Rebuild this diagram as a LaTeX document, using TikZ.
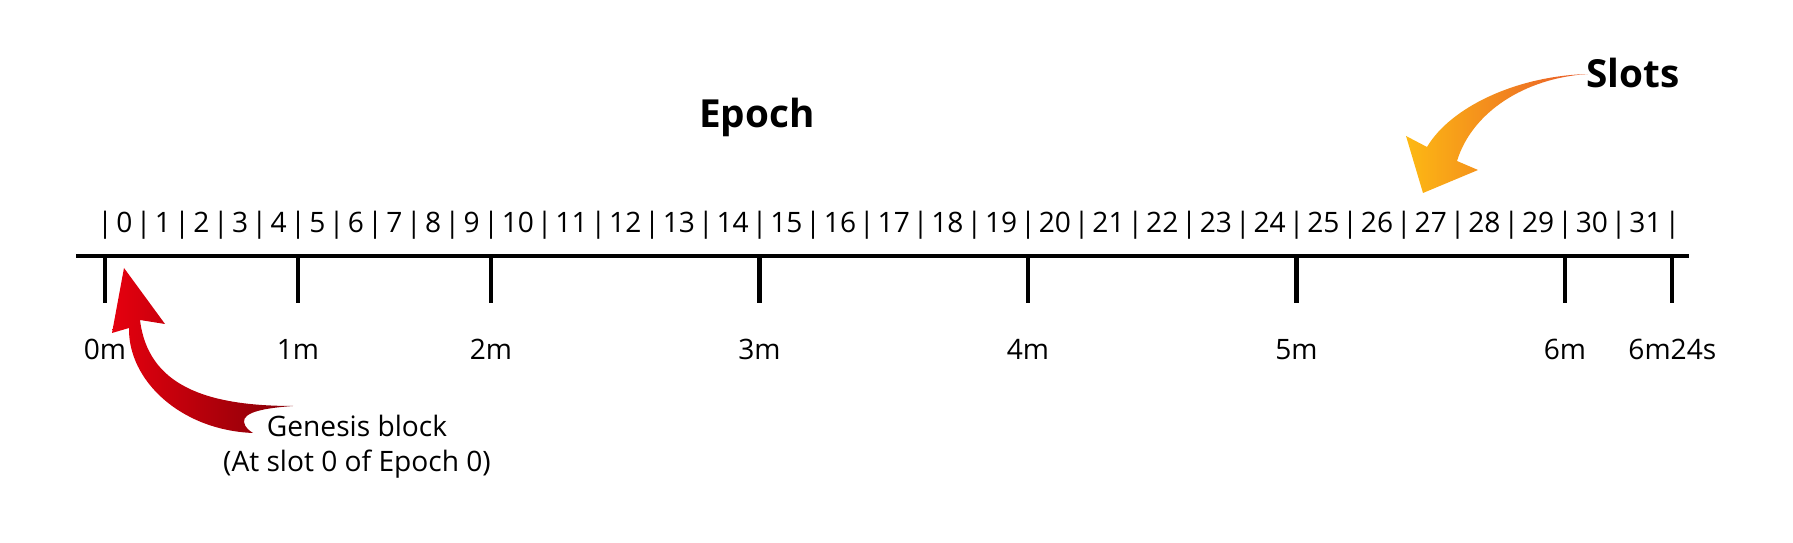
\documentclass[tikz,border=0pt]{standalone}
\usepackage{fontspec}
\setmainfont{Open Sans}
\definecolor{genred}{HTML}{E6000E}
\definecolor{gendark}{HTML}{860008}
\definecolor{slotyel}{HTML}{FDB913}
\definecolor{slotorg}{HTML}{E8582A}
\tikzset{
  lbl/.style={font=\fontsize{8}{10}\selectfont, anchor=base, inner sep=0pt},
  ttl/.style={font=\fontsize{11}{13}\selectfont\bfseries, anchor=base, inner sep=0pt},
  tick/.style={line width=1.15pt}
}
\begin{document}
\begin{tikzpicture}[x=0.01cm, y=-0.01cm]
  \useasboundingbox (0,0) rectangle (1793,543);

  \node[ttl] (ep) at (757,128) {Epoch};
  \node[ttl] (sl) at (1633,88) {Slots};

  % slot row
  \foreach \k in {0,...,32} {
    \pgfmathsetmacro{\bx}{\k<=10 ? 105+38.6*\k : 491+53.7*(\k-10)}
    \node[lbl] (p\k) at (\bx,233) {|};
  }
  \foreach \k in {0,...,31} {
    \pgfmathsetmacro{\sx}{\k<10 ? 105+38.6*(\k+0.5) : 491+53.7*(\k-9.5)}
    \node[lbl] (s\k) at (\sx,233) {\k};
  }

  % time axis
  \coordinate (a0) at (76,256);
  \coordinate (a1) at (1689,256);
  \coordinate (lb) at (0,360);
  \draw[tick] (a0) -- (a1);
  \foreach \k/\t in {0/0m,5/1m,10/2m,15/3m,20/4m,25/5m,30/6m,32/6m24s} {
    \draw[tick] (p\k.base |- a0) -- ++(0,47);
    \node[lbl] (m\k) at (p\k.base |- lb) {\t};
  }

  % genesis note
  \node[lbl] (g1) at (357,437) {Genesis block};
  \node[lbl] (g2) at (357,472) {(At slot 0 of Epoch 0)};

  % curved arrows
  \shade[left color=genred, right color=gendark]
    (124,268) -- (165,324) -- (140,320)
    .. controls (148,385) and (205,406) .. (293,406)
    .. controls (265,408) and (243,412) .. (244,422)
    .. controls (245,428) and (250,431) .. (253,433)
    .. controls (180,430) and (128,380) .. (129,328)
    -- (112,333) -- cycle;
  \shade[left color=slotyel, right color=slotorg]
    (1423,193) -- (1478,170) -- (1457,161)
    .. controls (1472,112) and (1525,78) .. (1588,74)
    .. controls (1515,76) and (1450,108) .. (1427,147)
    -- (1406,136) -- cycle;
\end{tikzpicture}
\end{document}
